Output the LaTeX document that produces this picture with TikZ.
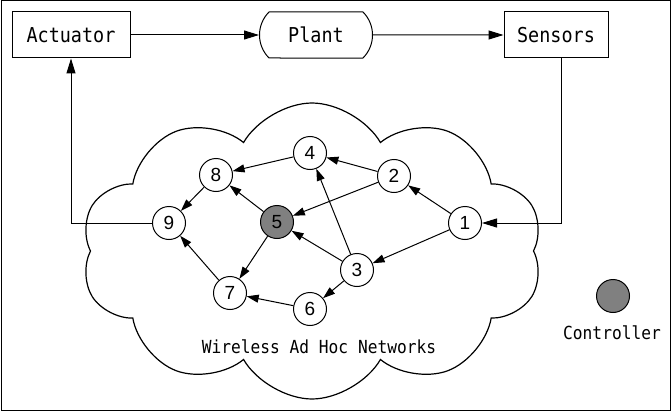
\documentclass[tikz,border=0pt]{standalone}
\usepackage{fontspec}
\usepackage{xcolor}
\usetikzlibrary{arrows.meta, shapes.misc, shapes.symbols, positioning}
\newfontfamily\boxfont[FakeStretch=0.9]{DejaVu Sans Mono}
\newfontfamily\digitfont{Liberation Sans}
\definecolor{ngray}{RGB}{128,128,128}

\begin{document}
\begin{tikzpicture}[x=1pt, y=-1pt, line width=1pt,
  block/.style={draw, minimum height=46pt, inner sep=0pt,
                font=\boxfont\fontsize{20.5}{24}\selectfont},
  vertex/.style={draw, circle, minimum size=33pt, inner sep=0pt, fill=white,
                 font=\digitfont\fontsize{19}{22}\selectfont},
  txt/.style={inner sep=0pt, font=\boxfont\fontsize{18}{21}\selectfont},
  flow/.style={-{Triangle[length=15pt, width=9pt]}},
  link/.style={-{Triangle[length=12pt, width=8pt]}}]
  \useasboundingbox (0,0) rectangle (672,412);
  \draw (1,1) rectangle (670,410);

  \node[block, minimum width=118pt] (act) at (71,35) {Actuator};
  \node[block, rounded rectangle, rounded rectangle arc length=90,
        minimum width=113pt] (plant) at (316,35) {Plant};
  \node[block, minimum width=104pt] (sens) at (556,35) {Sensors};

  \node[cloud, draw, line width=1.2pt, cloud puffs=10, cloud puff arc=120,
        cloud ignores aspect, minimum width=462pt, minimum height=296pt]
        (net) at (312,251) {};
  \node[txt] (nettext) at (319,347) {Wireless Ad Hoc Networks};

  \node[vertex] (n1) at (465,223) {1};
  \node[vertex] (n2) at (394,176) {2};
  \node[vertex] (n3) at (357,270) {3};
  \node[vertex] (n4) at (310,153) {4};
  \node[vertex, fill=ngray] (n5) at (277,222) {5};
  \node[vertex] (n6) at (310,309) {6};
  \node[vertex] (n7) at (230,293) {7};
  \node[vertex] (n8) at (216,175) {8};
  \node[vertex] (n9) at (169,223) {9};

  \node[vertex, fill=ngray] (ctrl) at (613,296) {};
  \node[txt] (ctrltext) at (612,333) {Controller};

  \draw[flow] (act) -- (plant);
  \draw[flow] (plant) -- (sens);
  \draw[flow] ([xshift=5pt]sens.south) |- (n1);
  \draw[flow] (n9) -| (act);

  \draw[link] (n1) -- (n2);
  \draw[link] (n1) -- (n3);
  \draw[link] (n2) -- (n4);
  \draw[link] (n2) -- (n5);
  \draw[link] (n3) -- (n4);
  \draw[link] (n3) -- (n5);
  \draw[link] (n3) -- (n6);
  \draw[link] (n4) -- (n8);
  \draw[link] (n5) -- (n7);
  \draw[link] (n5) -- (n8);
  \draw[link] (n6) -- (n7);
  \draw[link] (n7) -- (n9);
  \draw[link] (n8) -- (n9);
\end{tikzpicture}
\end{document}
